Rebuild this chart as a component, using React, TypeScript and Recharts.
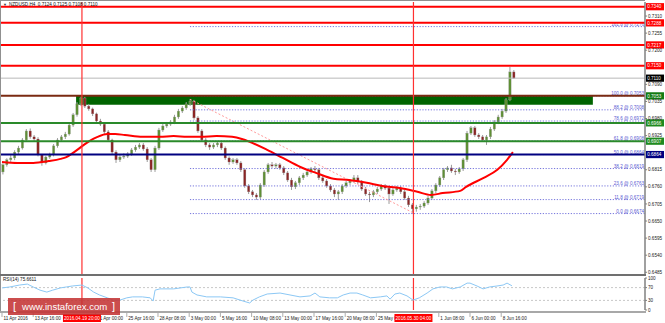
import React from 'react';
import { ComposedChart, Bar, Line, XAxis, YAxis, ReferenceLine, ReferenceArea } from 'recharts';

const FONT = '"Liberation Sans", Arial, sans-serif';

const TITLE = 'NZDUSD,H4  0.7124 0.7125 0.7108 0.7110';
const RSI_TITLE = 'RSI(14) 75.6611';

// H4 candles, read two bars at a time: [open, high, low, close]
const CANDLES: number[][] = [
  [0.6808, 0.6836, 0.6800, 0.6831], [0.6831, 0.6852, 0.6825, 0.6847], [0.6847, 0.6862, 0.6840, 0.6853],
  [0.6853, 0.6878, 0.6846, 0.6872], [0.6872, 0.6892, 0.6866, 0.6885], [0.6885, 0.6917, 0.6880, 0.6911],
  [0.6911, 0.6946, 0.6905, 0.6940], [0.6940, 0.6948, 0.6915, 0.6921], [0.6921, 0.6927, 0.6908, 0.6914],
  [0.6914, 0.6920, 0.6858, 0.6863], [0.6863, 0.6866, 0.6828, 0.6837], [0.6837, 0.6860, 0.6832, 0.6856],
  [0.6856, 0.6870, 0.6850, 0.6863], [0.6863, 0.6898, 0.6858, 0.6892], [0.6892, 0.6917, 0.6886, 0.6911],
  [0.6911, 0.6927, 0.6905, 0.6921], [0.6921, 0.6937, 0.6914, 0.6930], [0.6930, 0.6965, 0.6925, 0.6959],
  [0.6959, 0.6998, 0.6953, 0.6992], [0.6992, 0.7033, 0.6986, 0.7027], [0.7027, 0.7052, 0.7020, 0.7046],
  [0.7046, 0.7050, 0.7014, 0.7020], [0.7020, 0.7027, 0.7005, 0.7011], [0.7011, 0.7015, 0.6988, 0.6995],
  [0.6995, 0.6999, 0.6966, 0.6972], [0.6972, 0.6979, 0.6956, 0.6962], [0.6962, 0.6966, 0.6930, 0.6937],
  [0.6937, 0.6943, 0.6905, 0.6911], [0.6911, 0.6915, 0.6866, 0.6872], [0.6872, 0.6878, 0.6837, 0.6847],
  [0.6847, 0.6862, 0.6840, 0.6856], [0.6856, 0.6868, 0.6850, 0.6859], [0.6859, 0.6872, 0.6853, 0.6866],
  [0.6866, 0.6885, 0.6860, 0.6879], [0.6879, 0.6895, 0.6873, 0.6888], [0.6888, 0.6901, 0.6882, 0.6895],
  [0.6895, 0.6901, 0.6876, 0.6882], [0.6882, 0.6888, 0.6840, 0.6847], [0.6847, 0.6853, 0.6808, 0.6815],
  [0.6815, 0.6892, 0.6808, 0.6885], [0.6885, 0.6950, 0.6879, 0.6943], [0.6943, 0.6962, 0.6937, 0.6956],
  [0.6956, 0.6969, 0.6950, 0.6962], [0.6962, 0.6975, 0.6956, 0.6969], [0.6969, 0.6992, 0.6962, 0.6985],
  [0.6985, 0.7011, 0.6979, 0.7004], [0.7004, 0.7020, 0.6998, 0.7014], [0.7014, 0.7033, 0.7008, 0.7027],
  [0.7027, 0.7043, 0.7020, 0.7036], [0.7036, 0.7040, 0.6976, 0.6982], [0.6982, 0.6988, 0.6934, 0.6940],
  [0.6940, 0.6946, 0.6905, 0.6911], [0.6911, 0.6917, 0.6888, 0.6895], [0.6895, 0.6901, 0.6879, 0.6888],
  [0.6888, 0.6901, 0.6882, 0.6895], [0.6895, 0.6908, 0.6888, 0.6901], [0.6901, 0.6905, 0.6879, 0.6885],
  [0.6885, 0.6890, 0.6847, 0.6853], [0.6853, 0.6858, 0.6831, 0.6840], [0.6840, 0.6853, 0.6834, 0.6847],
  [0.6847, 0.6853, 0.6831, 0.6837], [0.6837, 0.6843, 0.6808, 0.6815], [0.6815, 0.6820, 0.6757, 0.6763],
  [0.6763, 0.6769, 0.6737, 0.6744], [0.6744, 0.6750, 0.6727, 0.6734], [0.6734, 0.6740, 0.6718, 0.6727],
  [0.6727, 0.6772, 0.6721, 0.6766], [0.6766, 0.6814, 0.6760, 0.6808], [0.6808, 0.6837, 0.6802, 0.6831],
  [0.6831, 0.6840, 0.6821, 0.6827], [0.6827, 0.6837, 0.6818, 0.6831], [0.6831, 0.6837, 0.6815, 0.6821],
  [0.6821, 0.6827, 0.6798, 0.6805], [0.6805, 0.6811, 0.6776, 0.6782], [0.6782, 0.6789, 0.6750, 0.6760],
  [0.6760, 0.6779, 0.6753, 0.6773], [0.6773, 0.6795, 0.6766, 0.6789], [0.6789, 0.6805, 0.6782, 0.6798],
  [0.6798, 0.6814, 0.6792, 0.6808], [0.6808, 0.6824, 0.6802, 0.6818], [0.6818, 0.6827, 0.6808, 0.6815],
  [0.6815, 0.6821, 0.6782, 0.6789], [0.6789, 0.6795, 0.6773, 0.6779], [0.6779, 0.6785, 0.6757, 0.6763],
  [0.6763, 0.6769, 0.6744, 0.6750], [0.6750, 0.6756, 0.6727, 0.6737], [0.6737, 0.6750, 0.6718, 0.6744],
  [0.6744, 0.6769, 0.6737, 0.6763], [0.6763, 0.6779, 0.6757, 0.6773], [0.6773, 0.6785, 0.6766, 0.6779],
  [0.6779, 0.6798, 0.6773, 0.6789], [0.6789, 0.6798, 0.6769, 0.6776], [0.6776, 0.6782, 0.6747, 0.6753],
  [0.6753, 0.6760, 0.6731, 0.6737], [0.6737, 0.6744, 0.6711, 0.6734], [0.6734, 0.6750, 0.6727, 0.6744],
  [0.6744, 0.6760, 0.6737, 0.6753], [0.6753, 0.6769, 0.6747, 0.6763], [0.6763, 0.6769, 0.6750, 0.6756],
  [0.6756, 0.6763, 0.6705, 0.6737], [0.6737, 0.6756, 0.6731, 0.6750], [0.6750, 0.6763, 0.6744, 0.6756],
  [0.6756, 0.6763, 0.6737, 0.6744], [0.6744, 0.6750, 0.6718, 0.6724], [0.6724, 0.6731, 0.6695, 0.6702],
  [0.6702, 0.6708, 0.6674, 0.6689], [0.6689, 0.6702, 0.6680, 0.6695], [0.6695, 0.6705, 0.6686, 0.6698],
  [0.6698, 0.6714, 0.6692, 0.6708], [0.6708, 0.6731, 0.6702, 0.6724], [0.6724, 0.6753, 0.6718, 0.6747],
  [0.6747, 0.6772, 0.6740, 0.6766], [0.6766, 0.6795, 0.6760, 0.6789], [0.6789, 0.6821, 0.6782, 0.6815],
  [0.6815, 0.6827, 0.6808, 0.6821], [0.6821, 0.6831, 0.6805, 0.6811], [0.6811, 0.6818, 0.6798, 0.6808],
  [0.6808, 0.6824, 0.6802, 0.6818], [0.6818, 0.6853, 0.6811, 0.6847], [0.6847, 0.6940, 0.6840, 0.6933],
  [0.6933, 0.6956, 0.6927, 0.6950], [0.6950, 0.6956, 0.6921, 0.6927], [0.6927, 0.6933, 0.6914, 0.6921],
  [0.6921, 0.6927, 0.6905, 0.6911], [0.6911, 0.6927, 0.6895, 0.6921], [0.6921, 0.6953, 0.6914, 0.6946],
  [0.6946, 0.6975, 0.6940, 0.6969], [0.6969, 0.6992, 0.6962, 0.6985], [0.6985, 0.7011, 0.6979, 0.7004],
  [0.7004, 0.7046, 0.6998, 0.7040], [0.7040, 0.7146, 0.7036, 0.7130], [0.7130, 0.7136, 0.7108, 0.7110],
];

// red moving average, read at H4 bar numbers
const MA_BARS = [0, 8, 16, 24, 30, 33, 37, 42, 45, 49, 54, 58, 63, 72, 81, 88, 95, 102, 110, 118,
  123, 127, 136, 144, 153, 161, 170, 178, 187, 195, 204, 213, 220, 226, 235, 238, 247, 254, 259, 262];
const MA_VALUES = [0.6840, 0.6837, 0.6837, 0.6843, 0.6850, 0.6856, 0.6872, 0.6895, 0.6908, 0.6921,
  0.6930, 0.6930, 0.6927, 0.6921, 0.6921, 0.6924, 0.6921, 0.6921, 0.6924, 0.6921,
  0.6914, 0.6905, 0.6879, 0.6853, 0.6824, 0.6805, 0.6786, 0.6782, 0.6773, 0.6763,
  0.6756, 0.6744, 0.6734, 0.6740, 0.6747, 0.6760, 0.6789, 0.6815, 0.6847, 0.6872];

const RSI_BARS = [0, 4, 9, 13, 16, 19.5, 23, 26, 30, 33, 36, 41, 44, 47, 50, 54, 57, 60.5, 64, 67,
  72, 76, 77.5, 78.5, 81, 88, 95, 96.4, 97.4, 100, 105, 112, 118.5, 123.6, 127, 128.7, 132, 136, 142.6, 147.7,
  152.8, 158, 160.5, 163, 168, 172, 175, 178.5, 182, 185, 189, 194, 197.4, 199, 201.5, 204, 207.7, 210.8, 214, 218,
  221, 224.6, 228, 231, 235, 238.5, 240, 243.6, 246.7, 250, 253.8, 257, 259, 261.5];
const RSI_VALUES = [69, 72, 78, 81, 72, 62, 56, 62, 69, 72, 75, 78, 69, 56, 47, 38, 31, 31, 38, 41,
  41, 38, 28, 62, 66, 66, 72, 72, 56, 47, 41, 41, 38, 28, 22, 31, 41, 50, 53, 47,
  41, 44, 53, 41, 38, 38, 47, 53, 53, 47, 38, 41, 44, 34, 50, 53, 44, 31, 38, 53,
  66, 72, 72, 66, 72, 84, 84, 75, 66, 72, 75, 78, 84, 75.66];

const PRICE_TICKS = [0.7310, 0.7255, 0.7200, 0.7090, 0.7035, 0.6980, 0.6925, 0.6815, 0.6760,
  0.6705, 0.6650, 0.6595, 0.6540, 0.6485];
const RSI_TICKS = [0, 30, 70, 100];

const TIME_BARS = [0, 16, 48, 64, 80, 96, 112, 128, 144, 160, 176, 192, 224, 240, 256];
const TIME_LABELS = ['11 Apr 2016', '13 Apr 16:00', '21 Apr 00:00', '25 Apr 16:00',
  '28 Apr 08:00', '3 May 00:00', '5 May 16:00', '10 May 08:00', '13 May 00:00', '17 May 16:00',
  '20 May 08:00', '25 May 00:00', '1 Jun 08:00', '6 Jun 00:00', '8 Jun 16:00'];

const VLINE_BARS = [41, 211];
const VLINE_LABELS = ['2016.04.19 20:00', '2016.05.30 04:00'];

const LEVEL_PRICES = [0.7340, 0.7288, 0.7217, 0.7150, 0.7110, 0.7053, 0.6966, 0.6907, 0.6864];
const LEVEL_KINDS = ['res', 'res', 'res', 'res', 'bid', 'zone', 'sup', 'sup', 'pivot'];

const FIB_RATIOS = ['161.8', '100.0', '88.2', '78.6', '61.8', '50.0', '38.2', '23.6', '11.8', '0.0'];
const FIB_PRICES = [0.7276, 0.7053, 0.7008, 0.6972, 0.6908, 0.6864, 0.6819, 0.6763, 0.6719, 0.6674];
const FIB_START_BAR = 96.4;

const ZONE_BARS = [38, 303];
const ZONE_PRICES = [0.7024, 0.7053];

const TREND_BARS = [96.4, 211];
const TREND_PRICES = [0.7042, 0.6676];

// axes
const BAR_DOMAIN = [-0.51, 329.74];
const PRICE_DOMAIN = [0.64762, 0.73552];

const STYLE: Record<string, { line: string; width: number; tag: string }> = {
  res: { line: '#ff0000', width: 2, tag: '#ff0000' },
  bid: { line: '#b8b8b8', width: 1, tag: '#000000' },
  zone: { line: '#7a2a12', width: 2, tag: '#137a13' },
  sup: { line: '#2a8a2a', width: 2, tag: '#1f8a1f' },
  pivot: { line: '#000080', width: 2, tag: '#000080' },
};

const candleData = CANDLES.map((c, i) => ({ bar: 2 * i + 0.5, open: c[0], high: c[1], low: c[2], close: c[3] }));
const maData = MA_BARS.map((b, i) => ({ bar: b, ma: MA_VALUES[i] }));
const rsiData = RSI_BARS.map((b, i) => ({ bar: b, rsi: RSI_VALUES[i] }));

const Candle = (props: any) => {
  const { x, y, width, height, payload } = props;
  if (x == null || y == null || !payload) return null;
  const top = Math.min(y, y + height);
  const span = Math.abs(height);
  const range = payload.high - payload.low || 1e-9;
  const py = (p: number) => top + ((payload.high - p) / range) * span;
  const cx = x + width / 2;
  const up = payload.close >= payload.open;
  const y1 = py(Math.max(payload.open, payload.close));
  const y2 = py(Math.min(payload.open, payload.close));
  return (
    <g>
      <line x1={cx} x2={cx} y1={top} y2={top + span} stroke="#9a9a9a" strokeWidth={1} />
      <rect x={cx - 1.2} y={y1} width={2.4} height={Math.max(y2 - y1, 0.8)}
        fill={up ? '#5f8f35' : '#8b2525'} stroke="#a0a0a0" strokeWidth={0.3} />
    </g>
  );
};

const LevelTag = (props: any) => {
  const { viewBox, text, bg } = props;
  if (!viewBox) return null;
  const x = viewBox.x + viewBox.width + 1;
  const y = viewBox.y;
  return (
    <g>
      <rect x={x} y={y - 3.6} width={18} height={7.2} fill={bg} />
      <text x={x + 1.2} y={y + 1.7} fontSize={4.6} fill="#ffffff" fontFamily={FONT}>{text}</text>
    </g>
  );
};

const FibLabel = (props: any) => {
  const { viewBox, text } = props;
  if (!viewBox) return null;
  return (
    <text x={viewBox.x + viewBox.width - 1} y={viewBox.y - 1} textAnchor="end" fontSize={4.6}
      fill="#5a5ad2" fontFamily={FONT}>{text}</text>
  );
};

const TimeTick = (props: any) => {
  const { x, y, payload } = props;
  const v = payload.value;
  const vi = VLINE_BARS.indexOf(v);
  if (vi >= 0) {
    return (
      <g>
        <rect x={x - 19} y={y + 4} width={38} height={8} fill="#ff0000" />
        <text x={x} y={y + 9.8} textAnchor="middle" fontSize={4.6} fill="#ffffff" fontFamily={FONT}>{VLINE_LABELS[vi]}</text>
      </g>
    );
  }
  const ti = TIME_BARS.indexOf(v);
  return (
    <g>
      <line x1={x} x2={x} y1={y + 3} y2={y + 7} stroke="#777" strokeWidth={0.6} />
      <text x={x + 1.5} y={y + 9.8} fontSize={4.6} fill="#222" fontFamily={FONT}>{TIME_LABELS[ti]}</text>
    </g>
  );
};

export default function App() {
  return (
    <div style={{ position: 'absolute', left: 0, top: 0, width: 665, height: 323, background: '#fff', overflow: 'hidden', fontFamily: FONT }}>
      <div style={{ position: 'absolute', left: 0, top: 0 }}>
        <ComposedChart width={665} height={276} data={candleData} margin={{ top: 2, right: 0, left: 1, bottom: 1 }}>
          <XAxis type="number" dataKey="bar" domain={BAR_DOMAIN} allowDataOverflow hide />
          <YAxis orientation="right" width={20} domain={PRICE_DOMAIN} allowDataOverflow ticks={PRICE_TICKS} interval={0}
            tickFormatter={(v: number) => v.toFixed(4)} tick={{ fontSize: 4.6, fill: '#222', fontFamily: FONT }}
            tickSize={2} tickMargin={1} stroke="#808080" axisLine={{ stroke: '#808080', strokeWidth: 1.5 }} />
          <ReferenceArea x1={ZONE_BARS[0]} x2={ZONE_BARS[1]} y1={ZONE_PRICES[0]} y2={ZONE_PRICES[1]}
            fill="#006400" fillOpacity={1} stroke="none" />
          {FIB_PRICES.map((p, i) => (
            <ReferenceLine key={'f' + i} segment={[{ x: FIB_START_BAR, y: p }, { x: BAR_DOMAIN[1], y: p }]}
              stroke="#6464d8" strokeWidth={0.9} strokeDasharray="1.2 1.6"
              label={<FibLabel text={`${FIB_RATIOS[i]} @ ${p.toFixed(4)}`} />} />
          ))}
          <ReferenceLine segment={[{ x: TREND_BARS[0], y: TREND_PRICES[0] }, { x: TREND_BARS[1], y: TREND_PRICES[1] }]}
            stroke="#ff9a9a" strokeWidth={1} strokeDasharray="2 2" />
          <Bar dataKey={(d: any) => [d.low, d.high]} shape={<Candle />} barSize={3} isAnimationActive={false} />
          <Line data={maData} dataKey="ma" type="monotone" stroke="#ff0000" strokeWidth={2} dot={false} isAnimationActive={false} />
          {LEVEL_PRICES.map((p, i) => (
            <ReferenceLine key={'l' + i} y={p} stroke={STYLE[LEVEL_KINDS[i]].line} strokeWidth={STYLE[LEVEL_KINDS[i]].width}
              label={<LevelTag text={p.toFixed(4)} bg={STYLE[LEVEL_KINDS[i]].tag} />} />
          ))}
          {VLINE_BARS.map((b) => (
            <ReferenceLine key={'v' + b} x={b} stroke="#ff3030" strokeWidth={1.2} />
          ))}
        </ComposedChart>
      </div>
      <div style={{ position: 'absolute', left: 0, top: 276 }}>
        <ComposedChart width={665} height={47} data={rsiData} margin={{ top: 2, right: 0, left: 1, bottom: 0 }}>
          <XAxis type="number" dataKey="bar" domain={BAR_DOMAIN} allowDataOverflow height={13}
            ticks={[...TIME_BARS, ...VLINE_BARS]} interval={0} tick={<TimeTick />}
            tickSize={0} tickMargin={0} axisLine={false} tickLine={false} />
          <YAxis orientation="right" width={20} domain={[0, 100]} allowDataOverflow ticks={RSI_TICKS} interval={0}
            tick={{ fontSize: 4.6, fill: '#222', fontFamily: FONT }} tickSize={2} tickMargin={1}
            axisLine={{ stroke: '#808080', strokeWidth: 1.5 }} stroke="#808080" />
          <ReferenceLine y={70} stroke="#c8c8c8" strokeDasharray="2 2" />
          <ReferenceLine y={30} stroke="#c8c8c8" strokeDasharray="2 2" />
          {VLINE_BARS.map((b) => (
            <ReferenceLine key={'rv' + b} x={b} stroke="#ff3030" strokeWidth={1.2} />
          ))}
          <Line dataKey="rsi" type="linear" stroke="#8cc8f5" strokeWidth={1} dot={false} isAnimationActive={false} />
        </ComposedChart>
      </div>
      {/* frame and separators */}
      <div style={{ position: 'absolute', left: 0, top: 0, width: 645, height: 1, background: '#909090' }} />
      <div style={{ position: 'absolute', left: 0, top: 0, width: 1, height: 313, background: '#909090' }} />
      <div style={{ position: 'absolute', left: 0, top: 274, width: 646, height: 2, background: '#707070' }} />
      <div style={{ position: 'absolute', left: 0, top: 311, width: 646, height: 2, background: '#a8a8a8' }} />
      <div style={{ position: 'absolute', left: 9, top: 2, fontSize: 4.6, lineHeight: '6px', color: '#111', whiteSpace: 'pre' }}>{TITLE}</div>
      <div style={{ position: 'absolute', left: 3, top: 2, fontSize: 4, lineHeight: '6px', color: '#333' }}>▼</div>
      <div style={{ position: 'absolute', left: 3, top: 277, fontSize: 4.6, lineHeight: '6px', color: '#111' }}>{RSI_TITLE}</div>
      <div style={{ position: 'absolute', left: 8, top: 298, width: 112, height: 17, background: 'rgba(196,52,52,0.88)', color: '#fff' }}>
        <span style={{ position: 'absolute', left: 5, top: 1, fontSize: 11, lineHeight: '15px', fontWeight: 300 }}>[</span>
        <span style={{ position: 'absolute', left: 14, top: 1, fontSize: 9.6, lineHeight: '15px' }}>www.instaforex.com</span>
        <span style={{ position: 'absolute', left: 104, top: 1, fontSize: 11, lineHeight: '15px', fontWeight: 300 }}>]</span>
      </div>
    </div>
  );
}
